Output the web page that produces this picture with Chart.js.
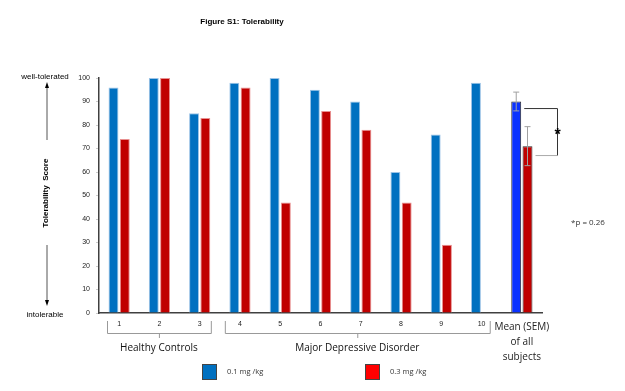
<!DOCTYPE html>
<html>
<head>
<meta charset="utf-8">
<script src="https://cdn.jsdelivr.net/npm/chart.js@4"></script>
<style>
  html, body { margin: 0; padding: 0; background: #fff; }
  #wrap { width: 625px; height: 391px; position: relative; }
</style>
</head>
<body>
<div id="wrap"><canvas id="chart" width="625" height="391"></canvas></div>
<script>
const categories = ['1', '2', '3', '4', '5', '6', '7', '8', '9', '10', ['Mean (SEM)', 'of all', 'subjects']];
const lowDose = [96, 100, 85, 98, 100, 95, 90, 60, 76, 98, 90];
const highDose = [74, 100, 83, 96, 47, 86, 78, 47, 29, null, 71];
const meanSem = [4, 8.3];
const yTicks = [0, 10, 20, 30, 40, 50, 60, 70, 80, 90, 100];
const seriesNames = ['0.1 mg /kg', '0.3 mg /kg'];
const groups = [
  { name: 'Healthy Controls', from: 0, to: 2 },
  { name: 'Major Depressive Disorder', from: 3, to: 9 }
];

const blue = '#0070C0';
const red = '#C00000';
const labelFont = '"Liberation Sans", Arial, sans-serif';
const textFont = '"Open Sans", "Noto Sans", sans-serif';

const blueColors = lowDose.map((v, i) => i === 10 ? '#0A32FF' : blue);
const redColors = highDose.map(() => red);
const blueBorders = lowDose.map((v, i) => i === 10 ? '#2a2a2a' : '#9cc3e6');
const redBorders = highDose.map((v, i) => i === 10 ? '#2a2a2a' : '#e89090');

const extras = {
  id: 'extras',
  afterDatasetsDraw(chart) {
    const ctx = chart.ctx;
    const y = chart.scales.y;
    const x = chart.scales.x;
    const b = chart.getDatasetMeta(0).data[10];
    const r = chart.getDatasetMeta(1).data[10];
    ctx.save();

    // error bars on the mean bars
    ctx.strokeStyle = '#a0a0a0';
    ctx.lineWidth = 1;
    [[b, lowDose[10], meanSem[0]], [r, highDose[10], meanSem[1]]].forEach(([el, m, s]) => {
      const top = y.getPixelForValue(m + s);
      const bot = y.getPixelForValue(m - s);
      ctx.beginPath();
      ctx.moveTo(el.x, top); ctx.lineTo(el.x, bot);
      ctx.moveTo(el.x - 3, top); ctx.lineTo(el.x + 3, top);
      ctx.moveTo(el.x - 3, bot); ctx.lineTo(el.x + 3, bot);
      ctx.stroke();
    });

    // significance bracket
    const yb = y.getPixelForValue(87);
    const yr = y.getPixelForValue(67);
    const xr = 557.5;
    ctx.strokeStyle = '#333';
    ctx.beginPath();
    ctx.moveTo(b.x + 8, yb); ctx.lineTo(xr, yb); ctx.lineTo(xr, yr);
    ctx.stroke();
    ctx.strokeStyle = '#aaa';
    ctx.beginPath();
    ctx.moveTo(r.x + 8, yr); ctx.lineTo(xr, yr);
    ctx.stroke();
    ctx.fillStyle = '#000';
    ctx.font = 'bold 16px ' + labelFont;
    ctx.textAlign = 'center';
    ctx.textBaseline = 'middle';
    ctx.fillText('*', xr, (yb + yr) / 2 + 4);
    ctx.font = '8px ' + textFont;
    ctx.fillStyle = '#333';
    ctx.textAlign = 'left';
    ctx.fillText('*p = 0.26', 571, 223);

    // title
    ctx.fillStyle = '#000';
    ctx.font = 'bold 8px ' + labelFont;
    ctx.textAlign = 'center';
    ctx.fillText('Figure S1: Tolerability', 242, 22);

    // left side labels and arrows
    ctx.font = '8px ' + labelFont;
    ctx.textAlign = 'center';
    ctx.fillText('well-tolerated', 45, 77);
    ctx.fillText('intolerable', 45, 315);
    ctx.save();
    ctx.translate(46, 193);
    ctx.rotate(-Math.PI / 2);
    ctx.font = 'bold 8px ' + labelFont;
    ctx.fillText('Tolerability  Score', 0, 0);
    ctx.restore();
    ctx.strokeStyle = '#555';
    ctx.fillStyle = '#000';
    ctx.beginPath();
    ctx.moveTo(47, 140); ctx.lineTo(47, 86);
    ctx.moveTo(47, 245); ctx.lineTo(47, 302);
    ctx.stroke();
    ctx.beginPath();
    ctx.moveTo(47, 82); ctx.lineTo(45, 88); ctx.lineTo(49, 88); ctx.closePath();
    ctx.moveTo(47, 306); ctx.lineTo(45, 300); ctx.lineTo(49, 300); ctx.closePath();
    ctx.fill();

    // group braces
    const half = (x.getPixelForValue(1) - x.getPixelForValue(0)) / 2;
    ctx.strokeStyle = '#999';
    ctx.font = '10px ' + textFont;
    ctx.fillStyle = '#111';
    groups.forEach((g, gi) => {
      const x0 = x.getPixelForValue(g.from) - half + (gi === 0 ? 8 : 5);
      const x1 = x.getPixelForValue(g.to) + half - (gi === 0 ? 9 : 12);
      const xm = (x0 + x1) / 2;
      ctx.beginPath();
      ctx.moveTo(x0 + 0.5, 321); ctx.lineTo(x0 + 0.5, 333.5); ctx.lineTo(x1 + 0.5, 333.5); ctx.lineTo(x1 + 0.5, 321);
      ctx.moveTo(xm + 0.5, 333.5); ctx.lineTo(xm + 0.5, 338);
      ctx.stroke();
      ctx.textAlign = 'center';
      ctx.fillText(g.name, xm, 348);
    });

    // legend
    ctx.font = '7.5px ' + textFont;
    ctx.textAlign = 'left';
    [[blue, 202, seriesNames[0]], ['#FF0000', 365, seriesNames[1]]].forEach(([c, lx, t]) => {
      ctx.fillStyle = c;
      ctx.fillRect(lx, 364, 14, 15);
      ctx.strokeStyle = '#444';
      ctx.strokeRect(lx + 0.5, 364.5, 14, 15);
      ctx.fillStyle = '#333';
      ctx.fillText(t, lx + 25, 372);
    });
    ctx.restore();
  }
};

new Chart(document.getElementById('chart'), {
  type: 'bar',
  data: {
    labels: categories,
    datasets: [
      { label: seriesNames[0], data: lowDose, backgroundColor: blueColors, borderColor: blueBorders, borderWidth: 1 },
      { label: seriesNames[1], data: highDose, backgroundColor: redColors, borderColor: redBorders, borderWidth: 1 }
    ]
  },
  options: {
    responsive: false,
    animation: false,
    events: [],
    layout: { padding: { left: 60, right: 83, top: 78, bottom: 5 } },
    categoryPercentage: 0.56,
    barPercentage: 0.88,
    plugins: { legend: { display: false }, tooltip: { enabled: false } },
    scales: {
      x: {
        afterFit: s => { s.height = 73; },
        grid: { display: false, drawTicks: false },
        border: { color: '#404040', width: 1.5 },
        ticks: {
          color: '#222',
          padding: 7,
          autoSkip: false,
          maxRotation: 0,
          font: c => c.index === 10 ? { size: 10, family: textFont, lineHeight: 1.5 } : { size: 7, family: labelFont }
        }
      },
      y: {
        min: 0,
        max: 100,
        afterFit: s => { s.width = 39; },
        afterBuildTicks: s => { s.ticks = yTicks.map(v => ({ value: v })); },
        grid: { display: true, drawOnChartArea: false, tickLength: 3, color: '#ccc' },
        border: { color: '#404040', width: 1.5 },
        ticks: { color: '#222', padding: 6, font: { size: 7, family: labelFont } }
      }
    }
  },
  plugins: [extras]
});
</script>
</body>
</html>
